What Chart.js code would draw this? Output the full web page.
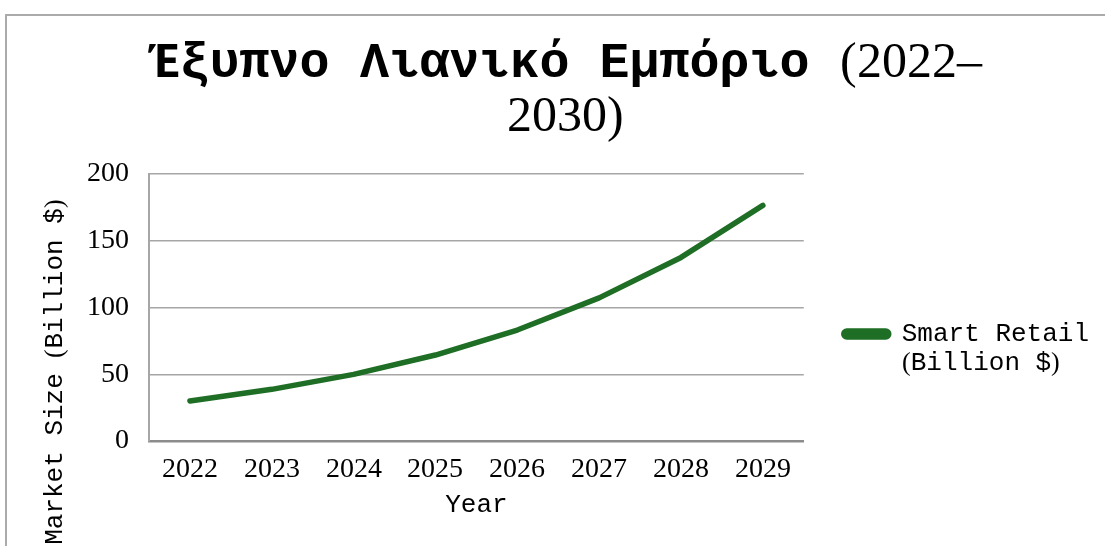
<!DOCTYPE html>
<html>
<head>
<meta charset="utf-8">
<script src="https://cdn.jsdelivr.net/npm/chart.js@4.4.1/dist/chart.umd.min.js"></script>
<style>
/* digits, brackets and dash come out in a serif face, everything else monospace */
@font-face {
  font-family: 'SerifDigits';
  src: local('Liberation Serif'), local('LiberationSerif');
  unicode-range: U+0028-0029, U+0030-0039, U+2013;
  font-weight: 100 900;
}
html, body { margin: 0; padding: 0; background: #fff; overflow: hidden; }
#frame {
  position: absolute; left: 5px; top: 14px;
  width: 1110px; height: 530px;
  border-left: 2px solid #ababab; border-top: 2px solid #ababab;
}
</style>
</head>
<body>
<div id="frame"><canvas id="myChart"></canvas></div>
<script>
// Data
var years = ['2022', '2023', '2024', '2025', '2026', '2027', '2028', '2029'];
var marketSize = [30, 38.7, 49.9, 64.4, 83.1, 107.2, 137.5, 176.5];
var yTicks = [0, 50, 100, 150, 200];
var seriesLabel = ['Smart Retail', '(Billion $)'];
var titleLines = ['Έξυπνο Λιανικό Εμπόριο (2022–', '2030)'];
var xTitle = 'Year';
var yTitle = 'Market Size (Billion $)';

var family = "SerifDigits, 'Liberation Mono', monospace";

// y axis title sits lower than chart.js would centre it, so draw it here
var yTitlePlugin = {
  id: 'yTitle',
  afterDraw: function (chart) {
    var ctx = chart.ctx;
    var area = chart.chartArea;
    ctx.save();
    ctx.translate(area.left - 94, area.top + 198);
    ctx.rotate(-Math.PI / 2);
    ctx.font = '26px ' + family;
    ctx.fillStyle = '#000';
    ctx.textAlign = 'center';
    ctx.textBaseline = 'middle';
    ctx.fillText(yTitle, 0, 0);
    ctx.restore();
  }
};

function draw() {
  var ctx = document.getElementById('myChart').getContext('2d');
  new Chart(ctx, {
    type: 'line',
    data: {
      labels: years,
      datasets: [{
        label: seriesLabel,
        data: marketSize,
        borderColor: '#1f6e25',
        backgroundColor: '#1f6e25',
        borderWidth: 5.5,
        borderCapStyle: 'round',
        borderJoinStyle: 'round',
        pointRadius: 0,
        tension: 0,
        fill: false
      }]
    },
    options: {
      responsive: true,
      maintainAspectRatio: false,
      animation: false,
      layout: { padding: { left: 25, right: 18, top: 0, bottom: 17 } },
      plugins: {
        title: {
          display: true,
          text: titleLines,
          color: '#000',
          font: { family: family, size: 50, weight: 'bold', lineHeight: 1.08 },
          padding: { top: 21, bottom: 29 }
        },
        legend: {
          position: 'right',
          maxWidth: 400,
          title: { display: true, text: ' ', font: { size: 26, lineHeight: 1.2 }, padding: { top: 124, bottom: 0 } },
          labels: {
            color: '#000',
            font: { family: family, size: 26, lineHeight: 1.12 },
            boxWidth: 45,
            boxHeight: 6,
            useBorderRadius: true,
            borderRadius: 3,
            padding: 40
          }
        },
        tooltip: { enabled: false }
      },
      scales: {
        x: {
          offset: true,
          grid: { display: false, drawTicks: false },
          border: { display: true, color: '#8c8c8c', width: 2.5 },
          ticks: { color: '#000', padding: 12, font: { family: family, size: 28 } },
          title: {
            display: true, text: xTitle, color: '#000',
            font: { family: family, size: 26 },
            padding: { top: 4, bottom: 8 }
          },
          afterFit: function (s) { s.height = 88; }
        },
        y: {
          min: 0,
          max: 200,
          afterBuildTicks: function (s) {
            s.ticks = yTicks.map(function (v) { return { value: v }; });
          },
          grid: { color: '#a6a6a6', lineWidth: 1.5, drawTicks: false },
          border: { display: true, color: '#a6a6a6', width: 2 },
          ticks: { color: '#000', padding: 20, font: { family: family, size: 28 } },
          afterFit: function (s) { s.width = 117; }
        }
      }
    },
    plugins: [yTitlePlugin]
  });
}

Promise.all([
  document.fonts.load('26px SerifDigits', '0123()'),
  document.fonts.load('bold 50px SerifDigits', '2022')
]).then(draw, draw);
</script>
</body>
</html>
